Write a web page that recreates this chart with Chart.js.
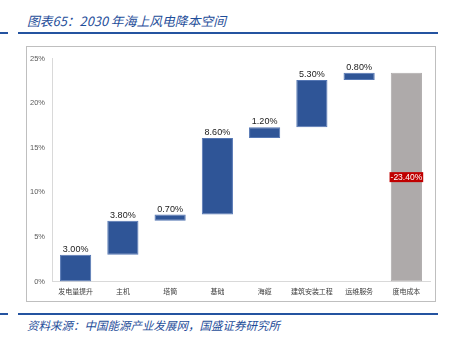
<!DOCTYPE html>
<html>
<head>
<meta charset="utf-8">
<script src="https://cdn.jsdelivr.net/npm/chart.js@4"></script>
<style>
    html, body { margin: 0; padding: 0; background: #fff; }
    body { width: 450px; height: 341px; position: relative; overflow: hidden; font-family: "Noto Sans CJK SC", sans-serif; }
    .title { position: absolute; left: 27px; top: 11px; font-size: 12.8px; font-style: italic; color: #1F4E9A; white-space: nowrap; }
    .rule { position: absolute; height: 2px; background: #2453A0; }
    .box { position: absolute; left: 26px; top: 46px; width: 408px; height: 254px; border: 1px solid #BFBFBF; }
    .box canvas { position: absolute; left: 0; top: 0; }
    .source { position: absolute; left: 27px; top: 317px; font-size: 11.5px; font-style: italic; color: #1F4E9A; white-space: nowrap; }
</style>
</head>
<body>
<div class="title">图表65：2030 年海上风电降本空间</div>
<div class="rule" style="left:0;top:32px;width:8px"></div>
<div class="rule" style="left:18px;top:32px;width:420px"></div>
<div class="box"><canvas id="chart" width="408" height="254"></canvas></div>
<div class="rule" style="left:0;top:313px;width:8px"></div>
<div class="rule" style="left:18px;top:313px;width:420px"></div>
<div class="source">资料来源：中国能源产业发展网，国盛证券研究所</div>

<script>
// cost-reduction steps (%), last column is the total
const categories = ['发电量提升', '主机', '塔筒', '基础', '海缆', '建筑安装工程', '运维服务', '度电成本'];
const steps = [3.0, 3.8, 0.7, 8.6, 1.2, 5.3, 0.8];
const totalValue = -23.4;
const yTicks = [0, 5, 10, 15, 20, 25];

// floating bars: each step starts where the previous one ended
const ranges = [];
let running = 0;
steps.forEach(v => {
    ranges.push([running, running + v]);
    running += v;
});
ranges.push([0, -totalValue]);

const barColors = categories.map((c, i) => i === categories.length - 1 ? '#AEAAAA' : '#2F5597');
const barBorders = categories.map((c, i) => i === categories.length - 1 ? '#AEAAAA' : '#5577B4');

const labelPlugin = {
    id: 'waterfallLabels',
    afterDatasetsDraw(chart) {
        const ctx = chart.ctx;
        const meta = chart.getDatasetMeta(0);
        ctx.save();
        meta.data.forEach((bar, i) => {
            if (i < steps.length) {
                ctx.font = '9px "Liberation Sans", Arial, sans-serif';
                ctx.fillStyle = '#1A1A1A';
                ctx.textAlign = 'center';
                ctx.textBaseline = 'bottom';
                ctx.fillText(steps[i].toFixed(2) + '%', bar.x, Math.min(bar.y, bar.base) - 1);
            } else {
                // total label sits in a red tag halfway up the bar
                const text = totalValue.toFixed(2) + '%';
                const yMid = (bar.y + bar.base) / 2;
                ctx.font = '8.5px "Liberation Sans", Arial, sans-serif';
                const w = ctx.measureText(text).width + 2;
                ctx.fillStyle = '#C00000';
                ctx.fillRect(bar.x - w / 2, yMid - 5, w, 10);
                ctx.fillStyle = '#FFFFFF';
                ctx.textAlign = 'center';
                ctx.textBaseline = 'middle';
                ctx.fillText(text, bar.x, yMid + 0.5);
            }
        });
        ctx.restore();
    }
};

new Chart(document.getElementById('chart').getContext('2d'), {
    type: 'bar',
    data: {
        labels: categories,
        datasets: [{
            data: ranges,
            backgroundColor: barColors,
            borderColor: barBorders,
            borderWidth: 1,
            borderSkipped: false,
            barPercentage: 0.66,
            categoryPercentage: 1
        }]
    },
    options: {
        responsive: false,
        animation: false,
        layout: { padding: { top: 9, right: 5, left: 0, bottom: 0 } },
        plugins: {
            legend: { display: false },
            tooltip: { enabled: false }
        },
        scales: {
            x: {
                grid: { display: false, drawTicks: false },
                border: { color: '#D9D9D9' },
                ticks: {
                    font: { size: 7, family: '"Noto Sans CJK SC", sans-serif' },
                    color: '#404040',
                    padding: 6,
                    maxRotation: 0,
                    autoSkip: false
                },
                afterFit(scale) { scale.height = 19.5; }
            },
            y: {
                min: 0,
                max: 25,
                afterBuildTicks(scale) { scale.ticks = yTicks.map(v => ({ value: v })); },
                grid: { display: false, drawTicks: false },
                border: { color: '#D9D9D9' },
                ticks: {
                    font: { size: 7.5, family: '"Liberation Sans", Arial, sans-serif' },
                    color: '#595959',
                    padding: 7,
                    callback: v => v + '%'
                },
                afterFit(scale) { scale.width = 25; }
            }
        }
    },
    plugins: [labelPlugin]
});
</script>
</body>
</html>
